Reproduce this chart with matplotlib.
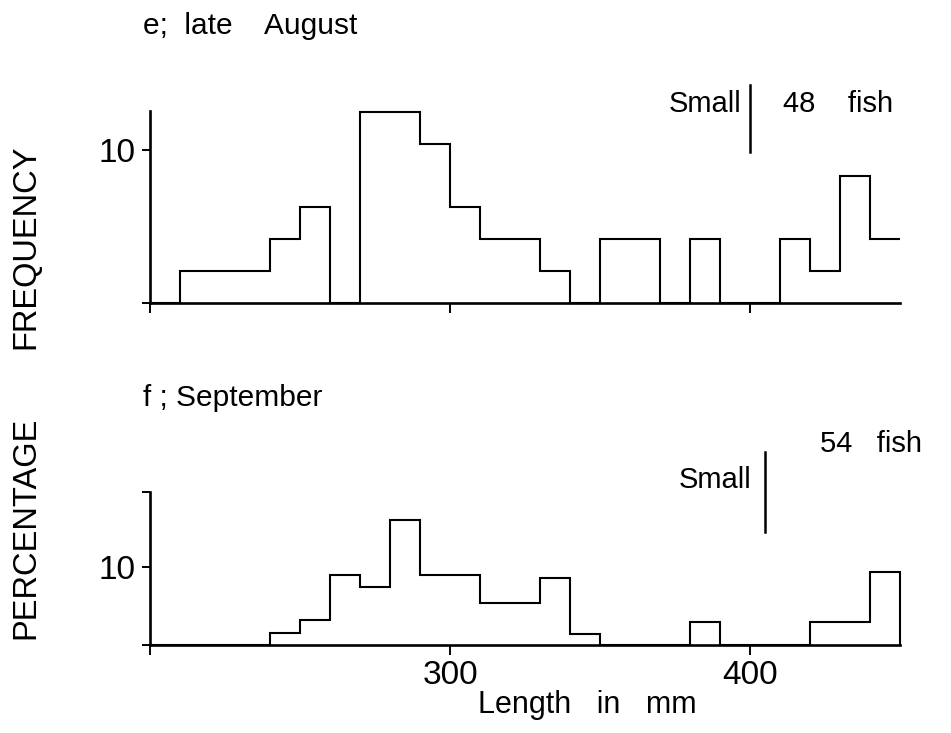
import matplotlib
matplotlib.use("Agg")
import matplotlib.pyplot as plt
import numpy as np

plt.rcParams['font.family'] = ['Liberation Sans', 'DejaVu Sans']

# ---- data (percentage of fish per 10 mm length class) ----
bin_edges = [200, 210, 220, 230, 240, 250, 260, 270, 280, 290, 300, 310, 320,
             330, 340, 350, 360, 370, 380, 390, 400, 410, 420, 430, 440, 450]
late_august_pct = [0, 2.1, 2.1, 2.1, 4.2, 6.3, 0, 12.5, 12.5, 10.4, 6.3, 4.2, 4.2,
                   2.1, 0, 4.2, 4.2, 0, 4.2, 0, 0, 4.2, 2.1, 8.3, 4.2]
september_pct = [0, 0, 0, 0, 1.5, 3.2, 9.0, 7.4, 16.0, 8.9, 8.9, 5.4, 5.4,
                 8.5, 1.4, 0, 0, 0, 2.9, 0, 0, 0, 3.0, 3.0, 9.3]
x_ticks = [200, 300, 400]
x_tick_labels = ['', '300', '400']
small_limit_aug = 400
small_limit_sep = 405
n_fish_aug = 48
n_fish_sep = 54

W, H = 951, 733
fig = plt.figure(figsize=(W / 100, H / 100), dpi=100)

def fx(px):
    return px / W

def fy(py):
    return 1 - py / H

LW_SPINE = 1.9
LW_STEP = 1.5

def style_axes(ax, ytop, yticks, ylabels, xlabels):
    ax.set_xlim(200, 450)
    ax.set_ylim(0, ytop)
    for s in ('top', 'right'):
        ax.spines[s].set_visible(False)
    for s in ('left', 'bottom'):
        ax.spines[s].set_linewidth(LW_SPINE)
    ax.set_xticks(x_ticks)
    ax.set_xticklabels(xlabels, fontsize=24)
    ax.set_yticks(yticks)
    ax.set_yticklabels(ylabels, fontsize=24)
    ax.tick_params(axis='x', direction='out', length=7.5, width=1.4, pad=3)
    ax.tick_params(axis='y', direction='out', length=5.5, width=1.4, pad=5)
    ax.patch.set_alpha(0)

# top panel: e; late August
ax1 = fig.add_axes([fx(150), fy(302.7), fx(900) - fx(150), fy(110.7) - fy(302.7)])
ax1.stairs(late_august_pct, bin_edges, baseline=None, color='black',
           linewidth=LW_STEP, clip_on=False)
style_axes(ax1, 12.6, [0, 10], ['', '10'], ['', '', ''])
ax1.plot([small_limit_aug, small_limit_aug], [9.9, 14.3], color='black',
         linewidth=1.8, clip_on=False)

# bottom panel: f; September
ax2 = fig.add_axes([fx(150), fy(645), fx(900) - fx(150), fy(491.5) - fy(645)])
ax2.stairs(september_pct, bin_edges, baseline=0, color='black',
           linewidth=LW_STEP, clip_on=False)
style_axes(ax2, 19.6, [0, 10, 19.6], ['', '10', ''], x_tick_labels)
ax2.plot([small_limit_sep, small_limit_sep], [14.4, 24.6], color='black',
         linewidth=1.8, clip_on=False)

# texts
fig.text(fx(143), fy(26), 'e;  late    August', fontsize=21.5, ha='left', va='center')
fig.text(fx(143), fy(398), 'f ; September', fontsize=21.5, ha='left', va='center')
fig.text(fx(741), fy(104), 'Small', fontsize=21, ha='right', va='center')
fig.text(fx(783), fy(104), '48    fish', fontsize=21, ha='left', va='center')
fig.text(fx(751), fy(480), 'Small', fontsize=21, ha='right', va='center')
fig.text(fx(820), fy(444), '54   fish', fontsize=21, ha='left', va='center')
fig.text(fx(26), fy(247), 'FREQUENCY', fontsize=23.5, rotation=90, ha='center', va='center')
fig.text(fx(26), fy(528), 'PERCENTAGE', fontsize=23.5, rotation=90, ha='center', va='center')
fig.text(fx(587), fy(713), 'Length   in   mm', fontsize=22, ha='center', va='baseline')

fig.savefig('out.png', dpi=100)
